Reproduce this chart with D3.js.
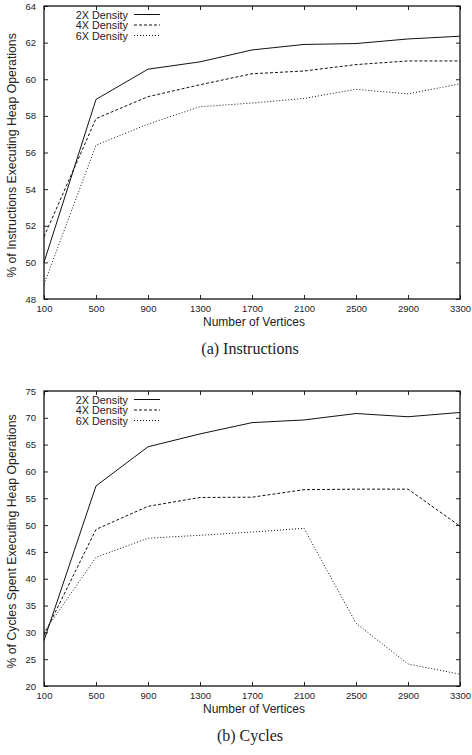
<!DOCTYPE html>
<html>
<head>
<meta charset="utf-8"/>
<script src="https://cdnjs.cloudflare.com/ajax/libs/d3/7.8.5/d3.min.js"></script>
<style>
  body { margin: 0; background: #fff; }
  text { font-family: "Liberation Sans", Arial, sans-serif; fill: #222; }
</style>
</head>
<body>
<script>
// shared x categories
const vertices = [100, 500, 900, 1300, 1700, 2100, 2500, 2900, 3300];
const seriesNames = ['2X Density', '4X Density', '6X Density'];

// (a) instructions
const instr2x = [50.0, 58.9, 60.55, 60.95, 61.6, 61.9, 61.95, 62.2, 62.35];
const instr4x = [51.4, 57.85, 59.05, 59.7, 60.3, 60.45, 60.8, 61.0, 61.0];
const instr6x = [48.8, 56.4, 57.55, 58.5, 58.7, 58.95, 59.45, 59.2, 59.75];
const instrTicks = [48, 50, 52, 54, 56, 58, 60, 62, 64];

// (b) cycles
const cyc2x = [28.5, 57.3, 64.6, 67.0, 69.1, 69.6, 70.8, 70.2, 71.0];
const cyc4x = [29.5, 49.2, 53.5, 55.15, 55.2, 56.6, 56.7, 56.7, 49.8];
const cyc6x = [30.0, 44.0, 47.55, 48.1, 48.7, 49.4, 31.7, 24.1, 22.2];
const cycTicks = [20, 25, 30, 35, 40, 45, 50, 55, 60, 65, 70, 75];

const dashes = [null, '3,2', '1,2'];

const svg = d3.select('body').append('svg')
  .attr('width', 472).attr('height', 755);

function drawPanel(cfg) {
  const left = 44, right = 460;
  const x = d3.scaleLinear().domain([100, 3300]).range([left, right]);
  const y = d3.scaleLinear().domain(cfg.domain).range([cfg.bottom, cfg.top]);
  const g = svg.append('g');

  // ticks on all four sides, pointing inward
  const tl = 4;
  g.append('g').attr('transform', `translate(0,${cfg.bottom})`)
    .call(d3.axisBottom(x).tickValues(vertices).tickFormat(d3.format('d'))
      .tickSizeInner(-tl).tickSizeOuter(0).tickPadding(6))
    .call(s => s.select('.domain').remove());
  g.append('g').attr('transform', `translate(0,${cfg.top})`)
    .call(d3.axisTop(x).tickValues(vertices).tickSizeInner(-tl).tickSizeOuter(0).tickFormat(''))
    .call(s => s.select('.domain').remove());
  g.append('g').attr('transform', `translate(${left},0)`)
    .call(d3.axisLeft(y).tickValues(cfg.ticks).tickFormat(d3.format('d'))
      .tickSizeInner(-tl).tickSizeOuter(0).tickPadding(8))
    .call(s => s.select('.domain').remove());
  g.append('g').attr('transform', `translate(${right},0)`)
    .call(d3.axisRight(y).tickValues(cfg.ticks).tickSizeInner(-tl).tickSizeOuter(0).tickFormat(''))
    .call(s => s.select('.domain').remove());
  g.selectAll('.tick text').attr('font-size', 9.5).attr('font-family', '"Liberation Sans", Arial, sans-serif').attr('fill', '#333');
  g.selectAll('.tick line').attr('stroke', '#222');

  g.append('rect')
    .attr('x', left).attr('y', cfg.top)
    .attr('width', right - left).attr('height', cfg.bottom - cfg.top)
    .attr('fill', 'none').attr('stroke', '#111').attr('stroke-width', 1.3);

  const line = d3.line().x((d, i) => x(vertices[i])).y(d => y(d));
  cfg.series.forEach((s, i) => {
    g.append('path').datum(s)
      .attr('d', line)
      .attr('fill', 'none')
      .attr('stroke', '#111')
      .attr('stroke-width', 1)
      .attr('stroke-dasharray', dashes[i]);
  });

  // legend (rows packed tightly like the original)
  seriesNames.forEach((n, i) => {
    const ly = cfg.top + 8.5 + i * 10.5;
    g.append('text').attr('x', 128).attr('y', ly + 4)
      .attr('text-anchor', 'end').attr('font-size', 10.8).text(n);
    g.append('line').attr('x1', 134).attr('x2', 160).attr('y1', ly).attr('y2', ly)
      .attr('stroke', '#111').attr('stroke-width', 1)
      .attr('stroke-dasharray', dashes[i]);
  });

  g.append('text')
    .attr('transform', `translate(16,${(cfg.top + cfg.bottom) / 2 + 3}) rotate(-90)`)
    .attr('text-anchor', 'middle').attr('font-size', 12.3).text(cfg.ylabel);
  g.append('text')
    .attr('x', (left + right) / 2 + 2).attr('y', cfg.bottom + 27)
    .attr('text-anchor', 'middle').attr('font-size', 12).text('Number of Vertices');
  g.append('text')
    .attr('x', (left + right) / 2 - 2).attr('y', cfg.bottom + 55)
    .attr('text-anchor', 'middle').attr('font-size', 16)
    .style('font-family', '"Liberation Serif", "Times New Roman", serif')
    .attr('fill', '#111')
    .text(cfg.caption);
}

drawPanel({
  top: 6, bottom: 299, domain: [48, 64], ticks: instrTicks,
  series: [instr2x, instr4x, instr6x],
  ylabel: '% of Instructions Executing Heap Operations',
  caption: '(a)  Instructions'
});
drawPanel({
  top: 391, bottom: 686, domain: [20, 75], ticks: cycTicks,
  series: [cyc2x, cyc4x, cyc6x],
  ylabel: '% of Cycles Spent Executing Heap Operations',
  caption: '(b)  Cycles'
});
</script>
</body>
</html>
